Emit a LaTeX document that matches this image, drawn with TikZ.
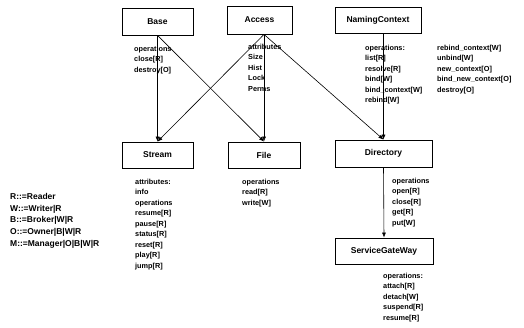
\documentclass[tikz,border=0pt]{standalone}
\usepackage{fontspec}
\setmainfont{Liberation Sans}
\usetikzlibrary{arrows.meta,positioning}
\begin{document}
\begin{tikzpicture}[x=1pt,y=-1pt,
  cls/.style={draw,line width=0.8pt,inner sep=0pt,font=\bfseries\fontsize{8.5}{10}\selectfont},
  lbl/.style={anchor=north west,inner sep=0pt,align=left,font=\bfseries\fontsize{7.3}{10.5}\selectfont},
  leg/.style={anchor=north west,inner sep=0pt,align=left,font=\bfseries\fontsize{8.5}{11.7}\selectfont},
  conn/.style={line width=0.6pt,-{Latex[length=5pt,width=4pt]}}]
\useasboundingbox (0,0) rectangle (524,327);
\node[cls,minimum width=71pt,minimum height=27pt] (base) at (157.5,21.5) {Base};
\node[cls,minimum width=65pt,minimum height=28pt] (acc) at (259.5,20) {Access};
\node[cls,minimum width=86pt,minimum height=26pt] (nc) at (378,20.5) {NamingContext};
\node[cls,minimum width=71pt,minimum height=26pt] (stream) at (157.5,155) {Stream};
\node[cls,minimum width=72pt,minimum height=26pt] (file) at (264,155) {File};
\node[cls,minimum width=97pt,minimum height=27pt] (dir) at (383.5,153.5) {Directory};
\node[cls,minimum width=98pt,minimum height=26pt] (sgw) at (384,251) {ServiceGateWay};
\coordinate (accb) at (acc.south -| file.north);
\coordinate (ncb) at (nc.south -| dir.north);
\draw[conn] (base.south) -- (stream.north);
\draw[conn] (base.south) -- (file.north);
\draw[conn] (accb) -- (stream.north);
\draw[conn] (accb) -- (file.north);
\draw[conn] (accb) -- (dir.north);
\draw[conn] (ncb) -- (dir.north);
\draw[conn] (dir.south) -- (sgw.north);
\node[lbl] (lbase) at (134,46) {operations\\close[R]\\destroy[O]};
\node[lbl] (lacc) at (248,44) {attributes\\Size\\Hist\\Lock\\Perms};
\node[lbl] (lnc1) at (365,45) {operations:\\list[R]\\resolve[R]\\bind[W]\\bind\_context[W]\\rebind[W]};
\node[lbl] (lnc2) at (437,45) {rebind\_context[W]\\unbind[W]\\new\_context[O]\\bind\_new\_context[O]\\destroy[O]};
\node[lbl] (lstream) at (135,179) {attributes:\\info\\operations\\resume[R]\\pause[R]\\status[R]\\reset[R]\\play[R]\\jump[R]};
\node[lbl] (lfile) at (242,179) {operations\\read[R]\\write[W]};
\node[lbl] (ldir) at (392,178) {operations\\open[R]\\close[R]\\get[R]\\put[W]};
\node[lbl] (lsgw) at (383,273) {operations:\\attach[R]\\detach[W]\\suspend[R]\\resume[R]};
\node[leg] (legend) at (10,193) {R::=Reader\\W::=Writer|R\\B::=Broker|W|R\\O::=Owner|B|W|R\\M::=Manager|O|B|W|R};
\end{tikzpicture}
\end{document}
